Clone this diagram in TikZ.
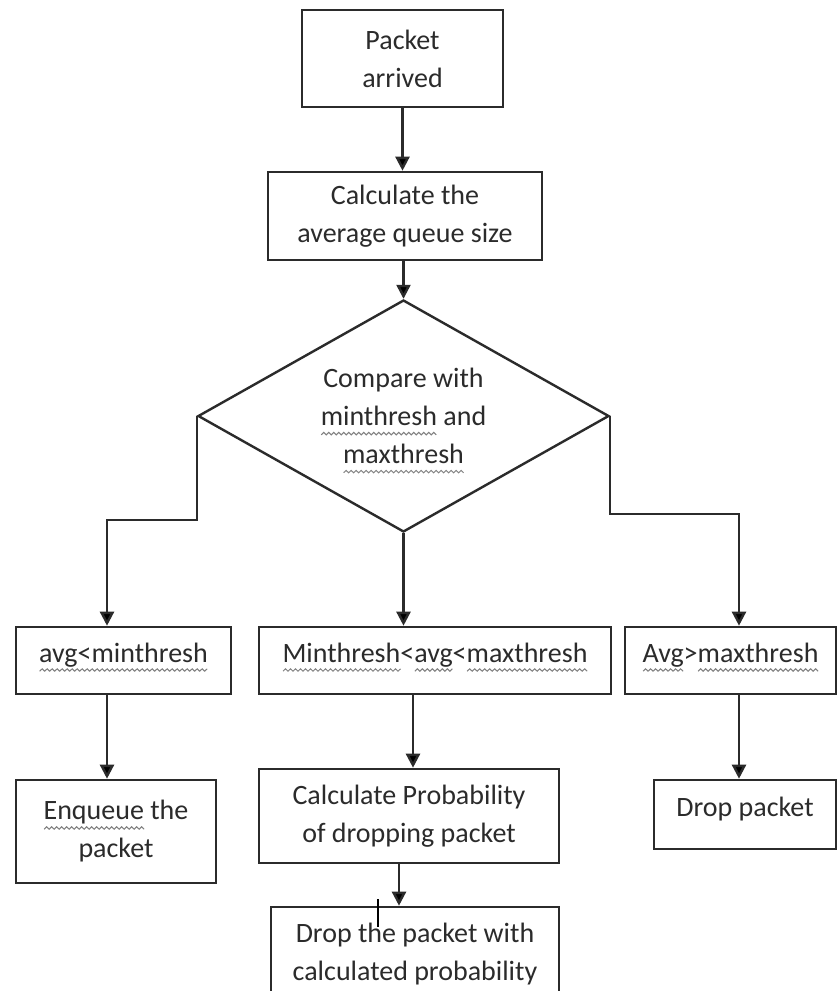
\documentclass[tikz,border=0pt]{standalone}
\usepackage{fontspec}
\setmainfont{Carlito}
\usetikzlibrary{arrows.meta,shapes.geometric}
\newlength\sqw
\newlength\sqx
\newcount\sqn
\newcount\sqi
\newsavebox\sqbox
\newcommand\sqline{%
  \begin{pgfpicture}\pgftransformreset
  \pgfsetlinewidth{1pt}\pgfsetstrokecolor{black!50}%
  \sqn=\sqw \divide\sqn by 163840
  \pgfpathmoveto{\pgfpoint{0pt}{-1.2pt}}%
  \sqi=0
  \loop\ifnum\sqi<\sqn
    \advance\sqi by 1
    \sqx=2.5pt \multiply\sqx by \sqi
    \ifodd\sqi \pgfpathlineto{\pgfpoint{\sqx}{1.2pt}}\else\pgfpathlineto{\pgfpoint{\sqx}{-1.2pt}}\fi
  \repeat
  \pgfusepath{stroke}%
  \pgfsetbaseline{0pt}%
  \end{pgfpicture}}
\newcommand\sq[1]{\sbox\sqbox{#1}\sqw=\wd\sqbox\rlap{\smash{\lower8pt\hbox{\sqline}}}\usebox\sqbox}
\definecolor{ink}{HTML}{2B2B2B}
\begin{document}
\begin{tikzpicture}[x=1pt,y=-1pt,
  font=\fontsize{28}{38}\selectfont,
  box/.style={draw=ink, line width=2.6pt, inner sep=0pt, align=center, text=ink},
  arr/.style={draw=ink, line width=2.4pt, -{Triangle[width=14pt,length=14pt]}},
  cursormark/.style={draw=black, line width=1.8pt}]
\fill[white] (0,0) rectangle (839,991);
\useasboundingbox (0,0) rectangle (839,991);

\node[box, minimum width=201pt, minimum height=97pt] (b1) at (402.5,58.5) {Packet\\arrived};
\node[box, minimum width=274pt, minimum height=88pt] (b2) at (405,216) {Calculate the\\average queue size};
\node[diamond, draw=ink, line width=2.4pt, inner sep=0pt, aspect=1.77, minimum width=411pt, minimum height=232pt, align=center, text=ink] (d) at (403.5,416) {Compare with\\\sq{minthresh} and\\\sq{maxthresh}};

\node[box, minimum width=215pt, text height=35pt, text depth=32pt] (c1) at (123.5,660.5) {\sq{avg<minthresh}};
\node[box, minimum width=352pt, text height=35pt, text depth=32pt] (c2) at (435,660.5) {\sq{Minthresh}<\sq{avg}<\sq{maxthresh}};
\node[box, minimum width=211pt, text height=35pt, text depth=32pt] (c3) at (730.5,660.5) {\sq{Avg}>\sq{maxthresh}};

\node[box, minimum width=200pt, minimum height=103pt] (e1) at (116,831.5) {\sq{Enqueue} the\\packet};
\node[box, minimum width=300pt, minimum height=94pt] (e2) at (409,816) {Calculate Probability\\of dropping packet};
\node[box, minimum width=182pt, text height=36pt, text depth=33pt] (e3) at (745,814.5) {Drop packet};
\node[box, minimum width=288pt, minimum height=94pt] (f) at (415,954) {Drop the packet with\\calculated probability};

\coordinate (lk) at (107,520);
\coordinate (rk) at (739,514);
\coordinate (mx) at (413,0);
\coordinate (bx) at (399,0);
\coordinate (cur) at (378,899);

\draw[arr] (b1.south) -- (b1.south |- b2.north);
\draw[arr] (d.north |- b2.south) -- (d.north);
\draw[arr] (d.west) |- (lk) -- (lk |- c1.north);
\draw[arr] (d.south) -- (d.south |- c2.north);
\draw[arr] (d.east) |- (rk) -- (rk |- c3.north);
\draw[arr] (lk |- c1.south) -- (lk |- e1.north);
\draw[arr] (mx |- c2.south) -- (mx |- e2.north);
\draw[arr] (rk |- c3.south) -- (rk |- e3.north);
\draw[arr] (bx |- e2.south) -- (bx |- f.north);
\draw[cursormark] (cur) -- ++(0,28);
\end{tikzpicture}
\end{document}
